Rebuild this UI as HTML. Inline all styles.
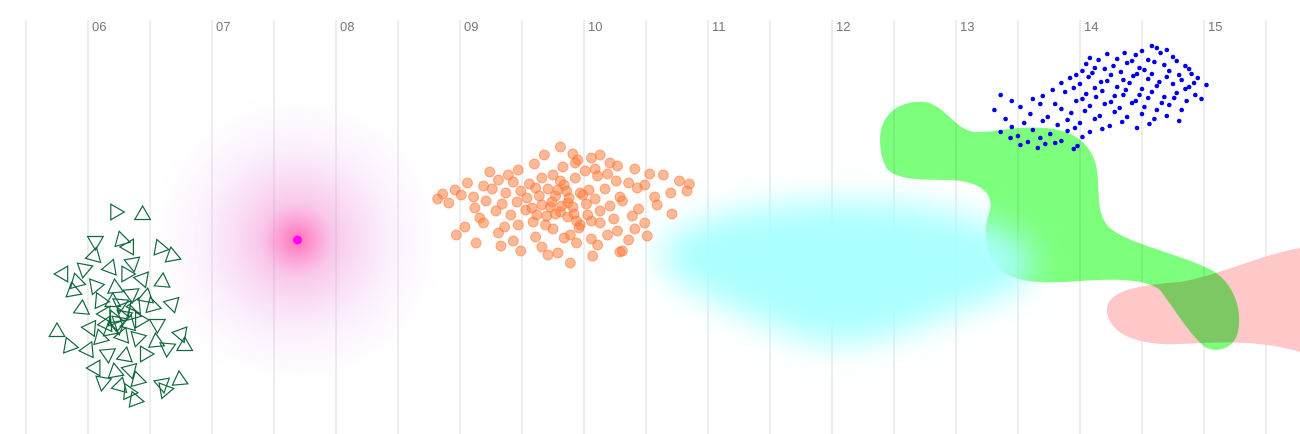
<!DOCTYPE html>
<html><head><meta charset="utf-8"><style>
html,body{margin:0;padding:0;background:#fff;}
svg{display:block;font-family:"Liberation Sans",sans-serif;}
</style></head><body>
<svg id="chart" width="1300" height="434" viewBox="0 0 1300 434">
<defs>
<radialGradient id="glow"><stop offset="0" stop-color="#ff3399" stop-opacity="0.7"/><stop offset="0.25" stop-color="#f070c8" stop-opacity="0.38"/><stop offset="0.6" stop-color="#e8a0f0" stop-opacity="0.18"/><stop offset="1" stop-color="#f0d0ff" stop-opacity="0"/></radialGradient>
<filter id="blur" x="-30%" y="-50%" width="160%" height="200%"><feGaussianBlur stdDeviation="16"/></filter>
</defs>
<g id="grid"></g>
<g id="bg">
<circle cx="297" cy="240" r="150" fill="url(#glow)"/>
<path d="M1107,312 C1105,290 1140,285 1180,282 C1220,275 1260,255 1300,248 L1300,352 C1260,340 1220,342 1180,344 C1140,346 1110,335 1107,312 Z" fill="#ffc8c8"/>
<path d="M880,140 C880,110 905,100 925,102 C945,105 955,130 975,132 C995,133 1010,126 1045,128 C1075,130 1093,145 1097,170 C1100,195 1096,215 1110,228 C1130,245 1185,255 1215,272 C1240,290 1242,320 1237,335 C1232,350 1215,353 1205,347 C1190,335 1175,310 1160,290 C1145,278 1110,279 1080,281 C1050,283 1020,285 1000,270 C985,255 982,230 990,210 C994,190 975,181 950,180 C920,180 900,180 888,170 C882,162 880,150 880,140 Z" fill="#7dff7d" style="mix-blend-mode:multiply"/>
<path d="M660,262 C650,240 700,215 760,208 C820,198 900,198 960,215 C1010,228 1045,250 1030,275 C1015,300 960,308 915,328 C875,345 820,350 785,332 C745,312 690,298 660,262 Z" fill="#a8ffff" fill-opacity="0.95" filter="url(#blur)"/>
</g>
<g id="marks"></g>
</svg>
<script>
const dayTicks = ["06","07","08","09","10","11","12","13","14","15"];
const tickDays = [6,7,8,9,10,11,12,13,14,15];
const triX = [6.22,6.44,6.06,6.27,6.33,6.58,6.05,6.36,6.68,5.97,6.18,6.31,6.44,6.60,5.91,6.06,6.22,6.35,6.47,5.80,5.88,6.10,6.26,6.38,6.52,6.68,5.95,6.14,6.21,6.29,6.33,6.24,6.18,6.42,6.56,5.75,6.02,6.10,6.28,6.40,6.55,6.75,5.85,6.00,6.16,6.30,6.46,6.64,6.78,6.06,6.22,6.34,6.40,6.12,6.26,6.33,6.60,6.74,6.62,6.38,6.20,6.30,6.36,6.25,6.15];
const triY = [222,219,193,194,187,186,178,171,178,165,166,160,155,152,152,148,146,140,137,160,143,133,130,128,128,130,125,120,115,118,110,108,104,114,110,102,106,96,98,96,92,100,88,84,80,78,80,86,88,66,62,64,54,52,48,42,50,54,44,34,132,126,120,112,110];
const triRot = [0,30,90,15,60,10,45,80,20,100,50,0,70,35,15,110,25,85,40,60,20,5,95,55,15,75,35,60,10,100,45,80,20,0,90,30,65,15,50,105,25,70,10,55,85,40,0,95,30,60,20,75,15,100,45,5,80,25,110,10,30,70,15,100,55];
const orangePts = [[9.81,287],[9.91,280],[9.95,274],[10.06,276],[10.13,279],[10.21,271],[9.68,279],[9.60,270],[9.83,267],[9.93,271],[10.09,265],[10.27,268],[10.41,265],[10.19,260],[10.01,263],[9.75,259],[9.47,264],[9.39,259],[9.24,262],[10.53,260],[10.64,259],[10.77,253],[10.85,250],[10.49,249],[10.36,251],[10.26,253],[10.11,258],[9.93,256],[9.81,253],[9.66,256],[9.56,250],[9.43,252],[9.31,254],[9.19,248],[9.06,251],[8.96,244],[8.86,240],[8.82,235],[8.91,231],[9.01,239],[9.11,237],[9.26,245],[9.37,241],[9.49,243],[9.61,246],[9.71,245],[9.84,249],[9.97,241],[10.04,244],[10.17,245],[10.29,237],[10.43,246],[10.57,237],[10.70,241],[10.83,243],[9.12,226],[9.21,233],[9.34,230],[9.46,232],[9.54,236],[9.66,229],[9.77,238],[9.87,231],[9.99,239],[10.09,235],[10.21,228],[10.31,233],[10.44,225],[10.59,229],[10.71,220],[9.16,216],[9.29,223],[9.41,219],[9.53,224],[9.62,219],[9.73,227],[9.81,222],[9.91,227],[10.03,219],[10.13,223],[10.24,215],[10.39,218],[10.49,211],[9.04,207],[9.19,211],[9.36,207],[9.47,209],[9.59,212],[9.69,209],[9.87,217],[9.97,209],[10.13,211],[10.27,203],[10.41,205],[8.97,199],[9.13,191],[9.31,201],[9.43,193],[9.61,197],[9.75,205],[9.89,199],[10.06,195],[10.19,199],[10.36,194],[10.51,198],[9.33,188],[9.49,183],[9.66,187],[9.79,181],[9.94,191],[10.11,189],[10.29,182],[9.71,179],[9.89,171],[10.07,178],[10.31,183],[9.84,196],[9.96,206],[9.77,220],[9.82,228],[9.88,236],[9.92,220],[9.74,232],[9.86,243],[9.94,213],[10.02,230],[9.70,218],[9.79,244],[9.64,238],[10.06,213],[9.58,226]];
const bluePts = [[14.58,388],[14.50,383],[14.62,386],[14.36,381],[14.70,384],[14.08,376],[14.22,380],[14.30,375],[14.45,379],[14.55,374],[14.65,381],[14.75,377],[14.42,373],[14.05,370],[14.15,374],[14.27,368],[14.38,371],[14.48,366],[14.60,372],[14.68,369],[14.78,373],[14.85,368],[14.12,366],[14.02,363],[14.10,361],[14.20,365],[14.33,362],[14.43,358],[14.52,364],[14.58,360],[14.72,363],[14.80,359],[14.88,365],[13.97,359],[13.92,356],[14.07,357],[14.17,352],[14.25,359],[14.35,354],[14.46,360],[14.55,355],[14.64,352],[14.70,357],[14.82,354],[14.90,360],[14.95,356],[13.85,351],[14.00,350],[14.12,346],[14.22,353],[14.30,347],[14.40,351],[14.50,345],[14.62,348],[14.75,350],[14.85,345],[14.92,351],[13.78,344],[13.95,346],[14.05,340],[14.18,343],[14.28,338],[14.37,344],[14.48,339],[14.58,342],[14.68,337],[14.78,341],[14.88,347],[15.02,349],[13.36,339],[13.70,338],[13.88,342],[14.02,335],[14.13,337],[14.25,332],[14.35,339],[14.45,333],[14.55,336],[14.66,331],[14.76,336],[14.86,333],[14.93,339],[13.45,333],[13.62,335],[13.80,330],[13.97,333],[14.08,328],[14.20,330],[14.32,326],[14.42,331],[14.52,327],[14.62,324],[14.72,329],[14.82,324],[14.98,335],[13.52,327],[13.68,330],[13.85,325],[13.93,321],[14.04,323],[14.16,318],[14.28,322],[14.38,317],[14.50,320],[14.60,315],[14.70,318],[14.80,313],[13.31,324],[13.60,320],[13.74,317],[13.90,314],[14.00,311],[14.12,315],[14.24,308],[14.34,312],[14.46,306],[14.56,310],[13.40,315],[13.55,311],[13.70,313],[13.82,309],[13.96,306],[14.08,302],[14.18,305],[13.45,307],[13.62,304],[13.76,300],[13.90,303],[14.02,297],[13.36,302],[13.50,298],[13.68,296],[13.85,293],[13.98,288],[13.44,296],[13.58,292],[13.72,290],[13.52,289],[13.66,286],[13.80,291],[13.95,285]];
const glowPoint = [7.69,194];

const NS = "http://www.w3.org/2000/svg";
const xScale = d => 88 + (d - 6) * 124;
const yScale = v => 434 - v;
const grid = document.getElementById('grid');
const marks = document.getElementById('marks');
function mk(tag, attrs, parent){ const e=document.createElementNS(NS,tag); for(const k in attrs) e.setAttribute(k,attrs[k]); parent.appendChild(e); return e; }

for (let h = 5.5; h <= 15.6; h += 0.5) {
  const x = xScale(h);
  const l = mk('line',{x1:x,x2:x,y1:20,y2:434,stroke:'#dcdcdc','stroke-width':1},grid);
  
  
}
tickDays.forEach((d,i)=>{
  const t = mk('text',{x:xScale(d)+4,y:31,'font-size':13,fill:'#777'},grid);
  t.textContent = dayTicks[i];
  
  
});

const gp = mk('circle',{cx:xScale(glowPoint[0]),cy:yScale(glowPoint[1]),r:4.5,fill:'#ff00ff'},marks);



triX.forEach((d,i)=>{
  const cx=xScale(d), cy=yScale(triY[i]), r=9, a=triRot[i]*Math.PI/180;
  const pts=[0,1,2].map(k=>{const t=a+k*2*Math.PI/3;return (cx+r*Math.cos(t)).toFixed(1)+','+(cy+r*Math.sin(t)).toFixed(1);}).join(' ');
  const p = mk('polygon',{points:pts,fill:'none',stroke:'#11693c','stroke-width':1.2},marks);
  
  
});
orangePts.forEach(pt=>{
  const c = mk('circle',{cx:xScale(pt[0]),cy:yScale(pt[1]),r:5,fill:'#ff8040','fill-opacity':0.55,stroke:'#ff7030','stroke-opacity':0.5},marks);
  
  
});
bluePts.forEach(pt=>{
  const c = mk('circle',{cx:xScale(pt[0]),cy:yScale(pt[1]),r:2.3,fill:'#0000ee'},marks);
  
  
});
</script>
</body></html>
